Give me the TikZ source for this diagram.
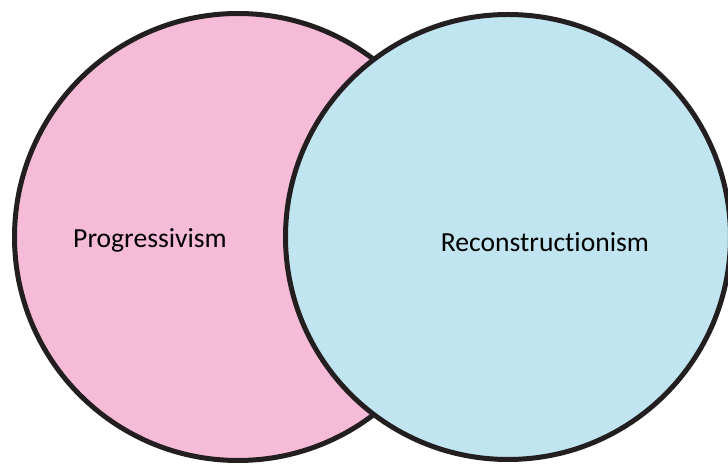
\documentclass[tikz,border=0pt]{standalone}
\usepackage{fontspec}
\setmainfont[Ligatures=NoCommon]{Carlito}
\definecolor{pinkfill}{RGB}{246,188,215}
\definecolor{bluefill}{RGB}{192,229,240}
\definecolor{ink}{RGB}{35,31,32}
\begin{document}
\begin{tikzpicture}[x=1pt,y=1pt,
  setcircle/.style={draw=ink,line width=5pt},
  setlabel/.style={font=\fontsize{27.6}{32}\selectfont,text=black,inner sep=0pt}]
\useasboundingbox (0,0) rectangle (728,465);
\begin{scope}
\clip (0,0) rectangle (728,465);
% left set
\filldraw[setcircle,fill=pinkfill] (238,228) circle (223.5);
% right set, drawn over the left one
\filldraw[setcircle,fill=bluefill] (508,228) circle (222.5);
\end{scope}
\node[setlabel] (prog) at (150,225) {Progressivism};
\node[setlabel] (recon) at (545,223) {Reconstructionism};
\end{tikzpicture}
\end{document}
